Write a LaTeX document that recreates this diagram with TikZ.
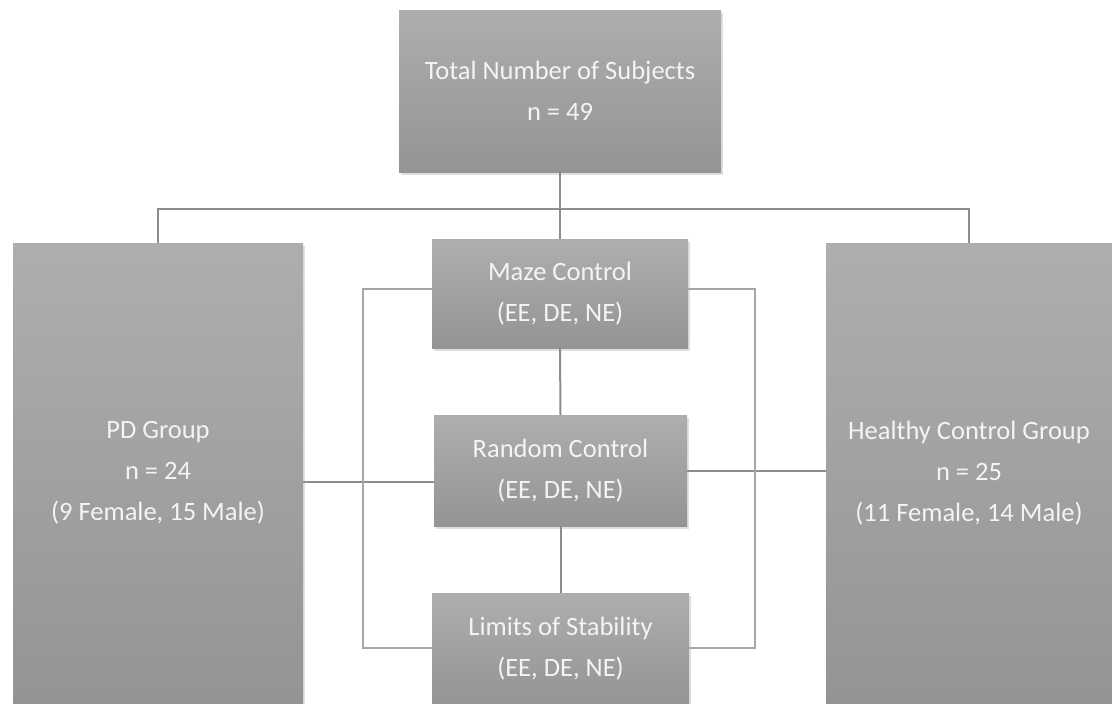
\documentclass[tikz,border=0pt]{standalone}
\usepackage{fontspec}
\setmainfont{Carlito}
\usetikzlibrary{shadows}
\definecolor{boxtop}{HTML}{AEAEAE}
\definecolor{boxbot}{HTML}{949494}
\definecolor{txt}{HTML}{F4F4F4}
\definecolor{conn}{HTML}{8C8C8C}
\definecolor{brk}{HTML}{A6A6A6}
\tikzset{
  gbox/.style={rectangle, inner sep=0pt, top color=boxtop, bottom color=boxbot, draw=none,
    text=txt, align=center, font=\fontsize{26.5}{41}\selectfont,
    drop shadow={opacity=0.25, shadow xshift=1.5pt, shadow yshift=-2.5pt}},
  conline/.style={draw=conn, line width=2pt},
  brkline/.style={draw=brk, line width=2.5pt},
}
\begin{document}
\begin{tikzpicture}[x=1pt,y=-1pt]
\useasboundingbox (0,0) rectangle (1112,704);
\fill[white] (0,0) rectangle (1112,704);
% connectors drawn first (behind boxes)
\coordinate (bl) at (363,648);
\coordinate (br) at (755,648);
\node[gbox, minimum width=322pt, minimum height=162pt] (top) at (560,91) {Total Number of Subjects\\n = 49};
\node[gbox, minimum width=290pt, minimum height=460pt] (pd) at (158,473) {PD Group\\n = 24\\(9 Female, 15 Male)};
\node[gbox, minimum width=286pt, minimum height=460pt] (hc) at (969,473) {Healthy Control Group\\n = 25\\(11 Female, 14 Male)};
\node[gbox, minimum width=256pt, minimum height=109pt] (maze) at (560,293.5) {Maze Control\\(EE, DE, NE)};
\node[gbox, minimum width=253pt, minimum height=111pt] (rand) at (560.5,470.5) {Random Control\\(EE, DE, NE)};
\node[gbox, minimum width=257pt, minimum height=111pt] (los) at (560.5,648.5) {Limits of Stability\\(EE, DE, NE)};
\begin{scope}[on background layer/.style={}]
\end{scope}
\draw[conline] (top.south) -- (maze.north);
\draw[conline] (pd.north) -- ++(0,-34) -| (hc.north);
\draw[conline] (maze.south) -- (rand.north);
\draw[conline] (rand.south) -- (los.north);
\draw[conline] ([yshift=-9pt]pd.east) -- ([yshift=-9pt]pd.east -| rand.west);
\draw[conline] (rand.east) -- (rand.east -| hc.west);
\draw[brkline] ([yshift=4.5pt]maze.west) -| (bl) -- (bl -| los.west);
\draw[brkline] ([yshift=4.5pt]maze.east) -| (br) -- (br -| los.east);
\end{tikzpicture}
\end{document}
